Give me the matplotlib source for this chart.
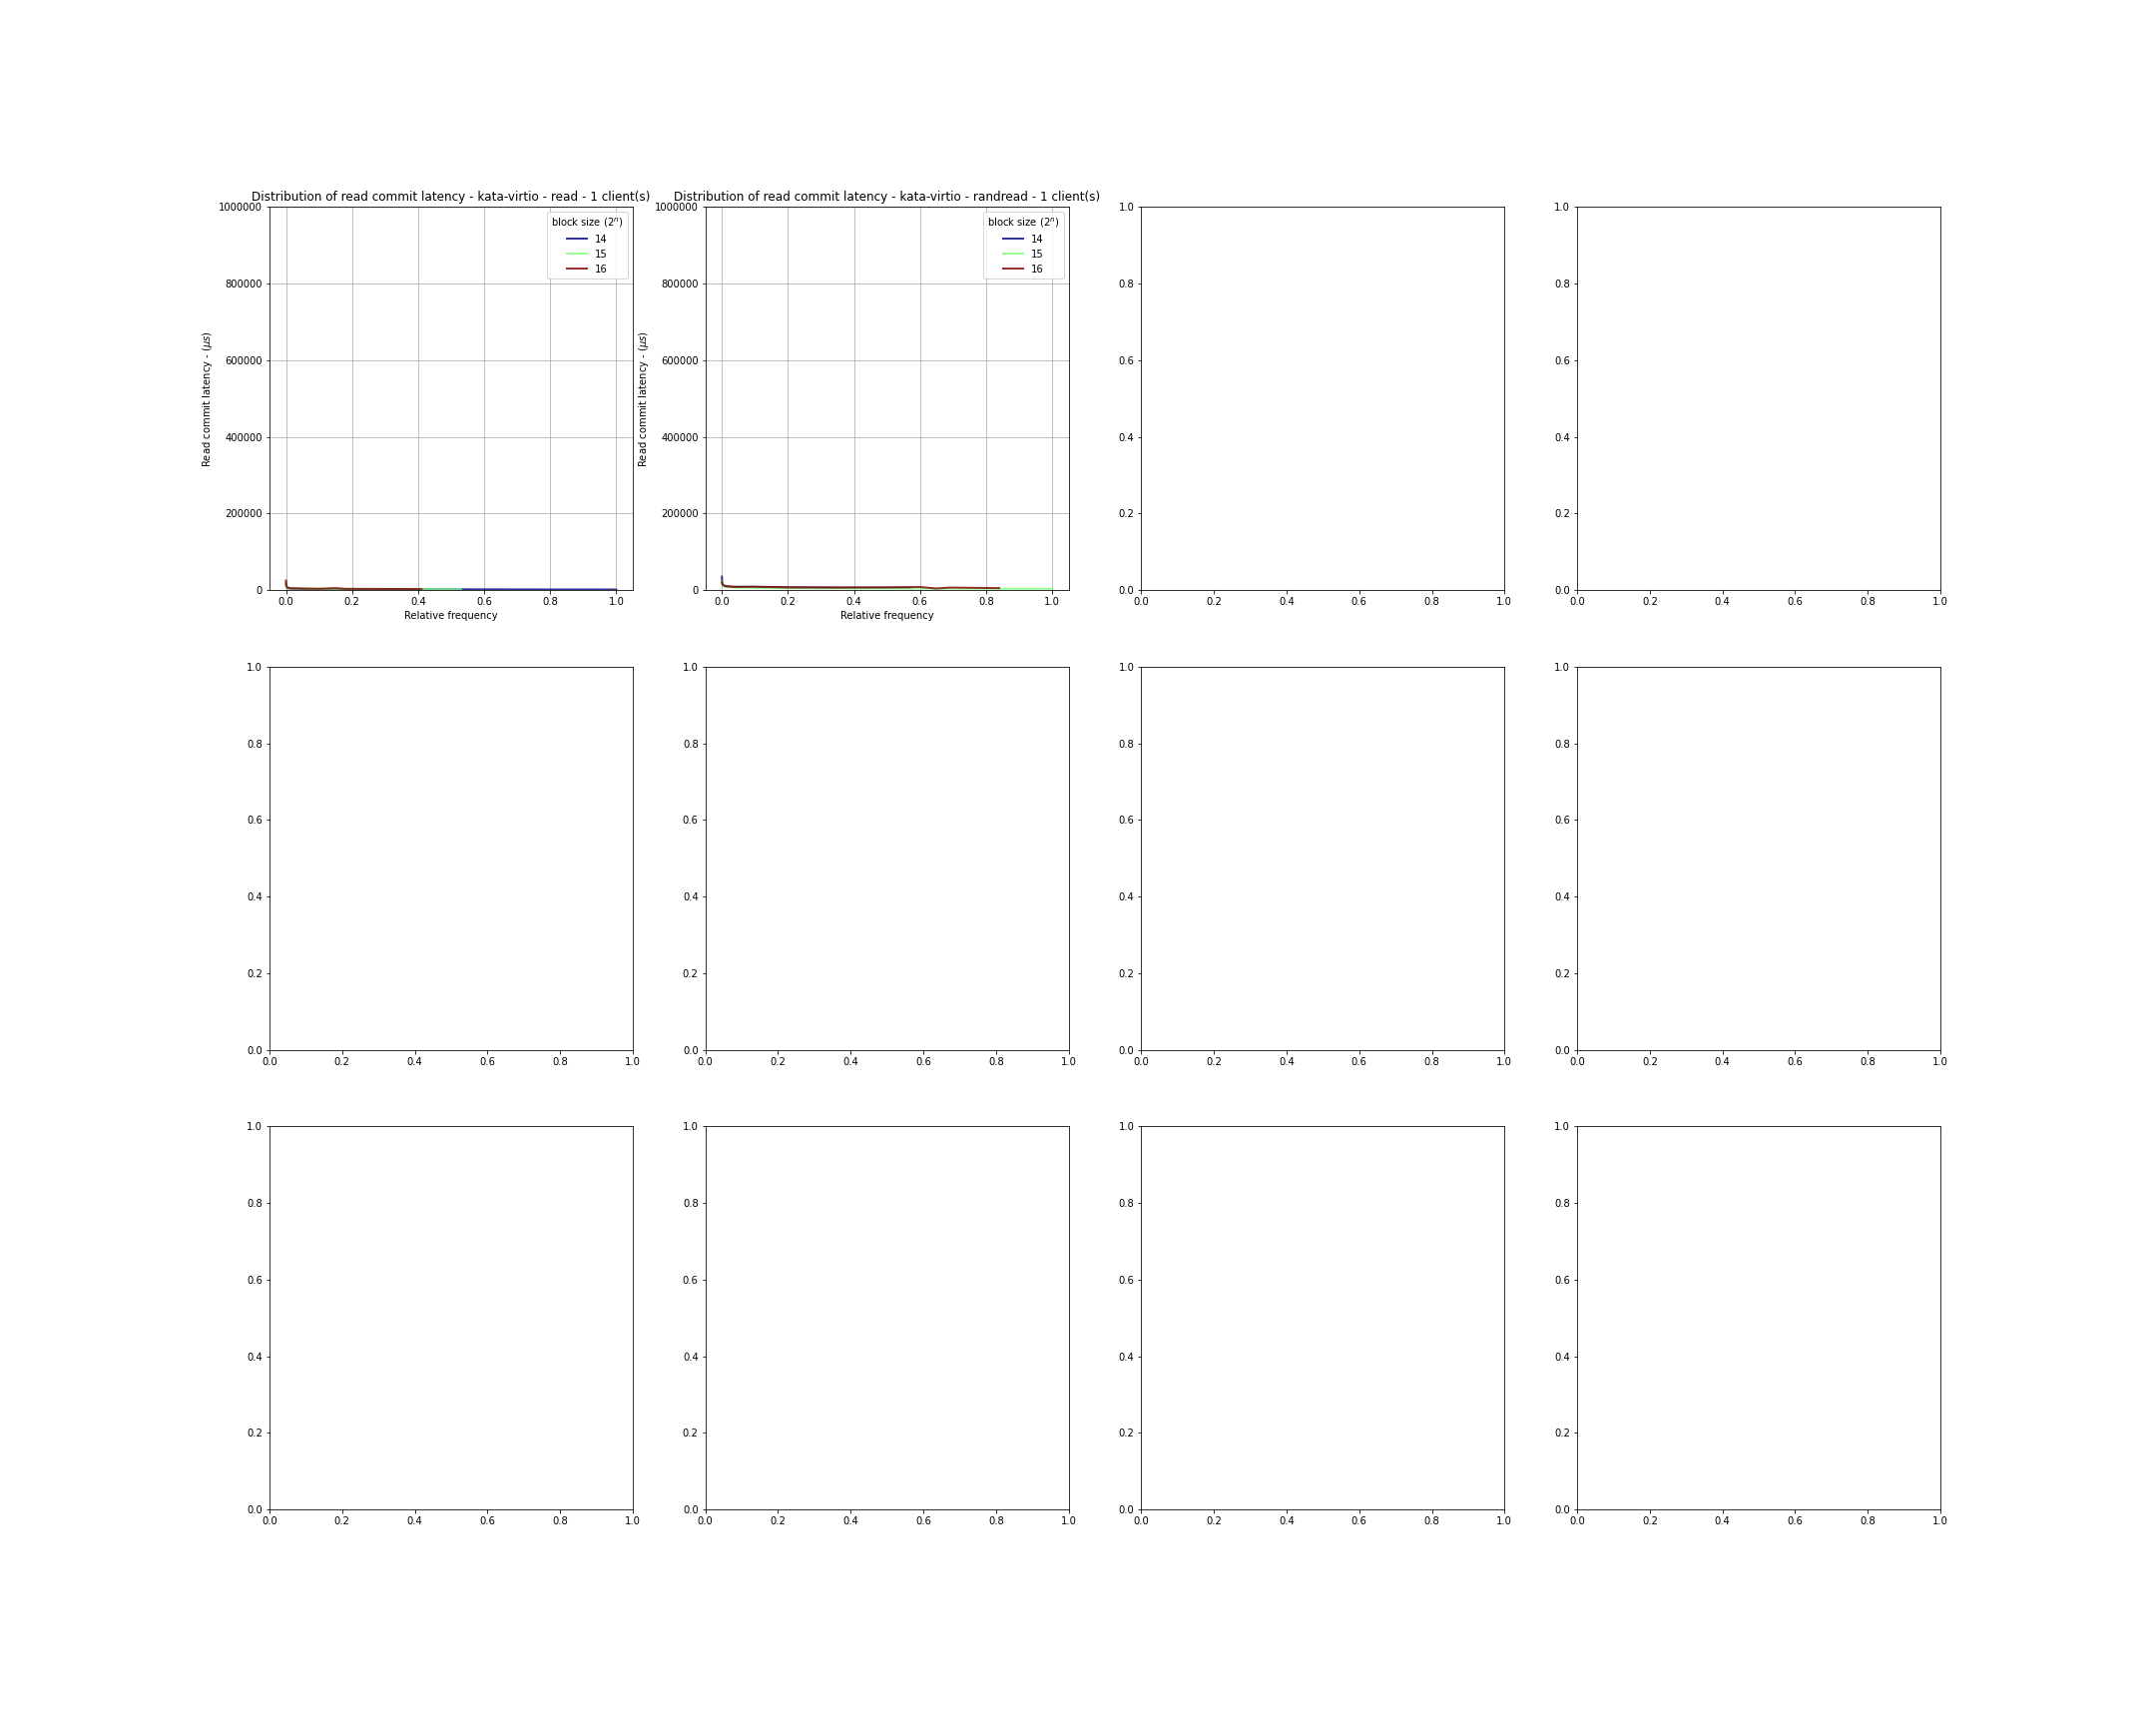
import matplotlib
matplotlib.use("Agg")
import matplotlib.pyplot as plt
import numpy as np

block_sizes = [14, 15, 16]

# Panel 1: read
read_x_14 = [0.0, 0.001, 0.004, 0.02, 0.08, 0.2, 0.35, 0.5, 0.65, 0.8, 1.0]
read_y_14 = [18000, 9000, 5000, 3500, 2800, 2500, 2200, 2000, 1800, 1600, 1500]
read_x_15 = [0.0, 0.001, 0.004, 0.02, 0.08, 0.2, 0.3, 0.42, 0.53]
read_y_15 = [20000, 10000, 6000, 4000, 3200, 2800, 2600, 2300, 2000]
read_x_16 = [0.0, 0.001, 0.004, 0.01, 0.05, 0.1, 0.15, 0.18, 0.25, 0.33, 0.41]
read_y_16 = [25000, 12000, 7000, 5000, 4000, 3500, 5000, 3200, 3000, 2800, 2500]

# Panel 2: randread
rand_x_14 = [0.0, 0.001, 0.004, 0.02, 0.08, 0.2, 0.35, 0.47, 0.57]
rand_y_14 = [35000, 18000, 12000, 9000, 8000, 7000, 6500, 6000, 5500]
rand_x_15 = [0.0, 0.002, 0.01, 0.05, 0.15, 0.3, 0.5, 0.7, 0.84, 1.0]
rand_y_15 = [22000, 12000, 8000, 6000, 5000, 4500, 4000, 3800, 3600, 3500]
rand_x_16 = [0.0, 0.002, 0.01, 0.04, 0.09, 0.2, 0.35, 0.47, 0.6, 0.65, 0.69, 0.84]
rand_y_16 = [20000, 14000, 10000, 8000, 9000, 7000, 6500, 7000, 8000, 4000, 6500, 5000]

titles = [
    "Distribution of read commit latency - kata-virtio - read - 1 client(s)",
    "Distribution of read commit latency - kata-virtio - randread - 1 client(s)",
]
panels = [
    [(read_x_14, read_y_14), (read_x_15, read_y_15), (read_x_16, read_y_16)],
    [(rand_x_14, rand_y_14), (rand_x_15, rand_y_15), (rand_x_16, rand_y_16)],
]

fig, axes = plt.subplots(3, 4, figsize=(30, 24), dpi=72)
fig.subplots_adjust(left=0.125, right=0.9, top=0.88, bottom=0.125, wspace=0.2, hspace=0.2)

cmap = plt.get_cmap("jet")
colors = [cmap(v) for v in np.linspace(0, 1, len(block_sizes))]

for i, (ax, series, title) in enumerate(zip(axes[0, :2], panels, titles)):
    for bs, (xs, ys), c in zip(block_sizes, series, colors):
        ax.plot(xs, ys, color=c, alpha=0.8, lw=2, label=str(bs))
    ax.set_ylim(0, 1000000)
    ax.set_title(title)
    ax.set_xlabel("Relative frequency")
    ax.set_ylabel(r"Read commit latency - ($\mu s$)")
    ax.ticklabel_format(axis="y", style="plain")
    ax.grid(True)
    ax.legend(title=r"block size ($2^n$)", loc="upper right")

fig.savefig("out.png", dpi=72)
